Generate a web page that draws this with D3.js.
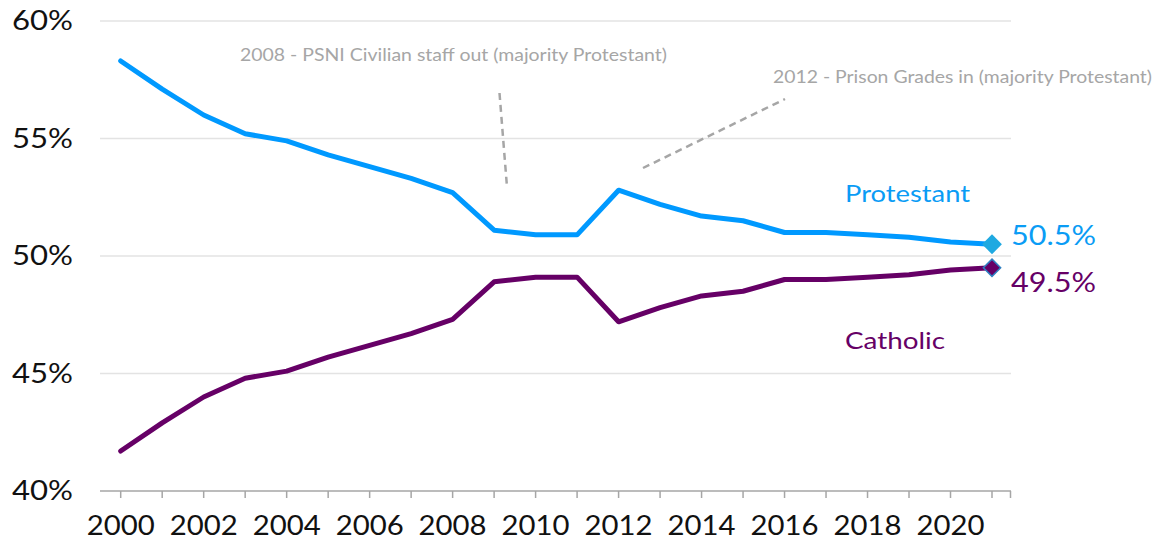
<!DOCTYPE html>
<html>
<head>
<meta charset="utf-8">
<script src="https://cdn.jsdelivr.net/npm/d3@7"></script>
<style>
  body { margin: 0; background: #fff; }
  text { font-family: "Lato", "DejaVu Sans", sans-serif; }
</style>
</head>
<body>
<div class="canvas"></div>
<script>
const years = d3.range(2000, 2022);
const protestant = [58.3, 57.1, 56.0, 55.2, 54.9, 54.3, 53.8, 53.3, 52.7, 51.1, 50.9,
    50.9, 52.8, 52.2, 51.7, 51.5, 51.0, 51.0, 50.9, 50.8, 50.6, 50.5];
const catholic = [41.7, 42.9, 44.0, 44.8, 45.1, 45.7, 46.2, 46.7, 47.3, 48.9, 49.1,
    49.1, 47.2, 47.8, 48.3, 48.5, 49.0, 49.0, 49.1, 49.2, 49.4, 49.5];
const yTicks = [40, 45, 50, 55, 60];
const xLabels = d3.range(2000, 2021, 2);
const notes = [
    '2008 - PSNI Civilian staff out (majority Protestant)',
    '2012 - Prison Grades in (majority Protestant)'
];

const width = 1155, height = 542;
const blue = '#0a9cf5', purple = '#660066';

const svg = d3.select('.canvas')
    .append('svg')
    .attr('width', width)
    .attr('height', height);

const x = d3.scaleLinear()
    .domain([2000, 2021])
    .range([120.7, 992]);

const y = d3.scaleLinear()
    .domain([40, 60])
    .range([491, 21]);

// gridlines
svg.append('g')
    .selectAll('line')
    .data(yTicks.filter(d => d > 40))
    .enter()
    .append('line')
    .attr('x1', 100)
    .attr('x2', 1011)
    .attr('y1', d => y(d))
    .attr('y2', d => y(d))
    .attr('stroke', '#e3e3e3')
    .attr('stroke-width', 1.5);

// y labels
svg.append('g')
    .selectAll('text')
    .data(yTicks)
    .enter()
    .append('text')
    .attr('x', 73)
    .attr('y', d => y(d))
    .attr('dy', '0.35em')
    .attr('text-anchor', 'end')
    .attr('font-size', 26)
    .attr('textLength', 61)
    .attr('lengthAdjust', 'spacingAndGlyphs')
    .attr('fill', '#111')
    .text(d => d + '%');

// x axis
const xAxis = svg.append('g');
xAxis.append('line')
    .attr('x1', 100)
    .attr('x2', 1011)
    .attr('y1', y(40))
    .attr('y2', y(40))
    .attr('stroke', '#a6a6a6')
    .attr('stroke-width', 1.5);

xAxis.selectAll('.tick')
    .data(years.concat([2021.5]))
    .enter()
    .append('line')
    .attr('x1', d => d > 2021 ? 1010.5 : x(d))
    .attr('x2', d => d > 2021 ? 1010.5 : x(d))
    .attr('y1', y(40))
    .attr('y2', y(40) + 7)
    .attr('stroke', '#a6a6a6')
    .attr('stroke-width', 1.5);

xAxis.selectAll('text')
    .data(xLabels)
    .enter()
    .append('text')
    .attr('x', d => x(d) - 34)
    .attr('y', 535)
    .attr('font-size', 26)
    .attr('textLength', 68)
    .attr('lengthAdjust', 'spacingAndGlyphs')
    .attr('fill', '#111')
    .text(d => d);

// annotations
const noteG = svg.append('g');
noteG.append('text')
    .attr('x', 240)
    .attr('y', 61)
    .attr('font-size', 16.5)
    .attr('textLength', 427)
    .attr('lengthAdjust', 'spacingAndGlyphs')
    .attr('fill', '#a6a6a6')
    .text(notes[0]);
noteG.append('line')
    .attr('x1', 499.5).attr('y1', 93)
    .attr('x2', 507).attr('y2', 187)
    .attr('stroke', '#a6a6a6')
    .attr('stroke-width', 2.5)
    .attr('stroke-dasharray', '7,5');
noteG.append('text')
    .attr('x', 773)
    .attr('y', 83)
    .attr('font-size', 16.5)
    .attr('textLength', 379)
    .attr('lengthAdjust', 'spacingAndGlyphs')
    .attr('fill', '#a6a6a6')
    .text(notes[1]);
noteG.append('line')
    .attr('x1', 643).attr('y1', 168)
    .attr('x2', 785).attr('y2', 99)
    .attr('stroke', '#a6a6a6')
    .attr('stroke-width', 2.5)
    .attr('stroke-dasharray', '7,5');

// lines
const line = d3.line()
    .x((d, i) => x(years[i]))
    .y(d => y(d));

svg.append('path')
    .datum(protestant)
    .attr('d', line)
    .attr('fill', 'none')
    .attr('stroke', '#0099ff')
    .attr('stroke-width', 5)
    .attr('stroke-linejoin', 'round')
    .attr('stroke-linecap', 'round');

svg.append('path')
    .datum(catholic)
    .attr('d', line)
    .attr('fill', 'none')
    .attr('stroke', purple)
    .attr('stroke-width', 5)
    .attr('stroke-linejoin', 'round')
    .attr('stroke-linecap', 'round');

// end markers
const last = years.length - 1;
const diamond = d3.symbol().type(d3.symbolDiamond2);
svg.append('path')
    .attr('d', diamond.size(250)())
    .attr('transform', `translate(${x(years[last])}, ${y(protestant[last])})`)
    .attr('fill', '#1fa9e1');
svg.append('path')
    .attr('d', diamond.size(190)())
    .attr('transform', `translate(${x(years[last])}, ${y(catholic[last])})`)
    .attr('fill', purple)
    .attr('stroke', '#2f7fc1')
    .attr('stroke-width', 1.5);

// value labels
svg.append('text')
    .attr('x', 1011)
    .attr('y', y(protestant[last]) - 8)
    .attr('dy', '0.35em')
    .attr('font-size', 26)
    .attr('textLength', 85)
    .attr('lengthAdjust', 'spacingAndGlyphs')
    .attr('fill', blue)
    .text(protestant[last].toFixed(1) + '%');
svg.append('text')
    .attr('x', 1011)
    .attr('y', y(catholic[last]) + 15)
    .attr('dy', '0.35em')
    .attr('font-size', 26)
    .attr('textLength', 85)
    .attr('lengthAdjust', 'spacingAndGlyphs')
    .attr('fill', purple)
    .text(catholic[last].toFixed(1) + '%');

// series labels
svg.append('text')
    .attr('x', 845)
    .attr('y', 194)
    .attr('dy', '0.35em')
    .attr('font-size', 24)
    .attr('textLength', 125)
    .attr('lengthAdjust', 'spacingAndGlyphs')
    .attr('fill', blue)
    .text('Protestant');
svg.append('text')
    .attr('x', 845)
    .attr('y', 341)
    .attr('dy', '0.35em')
    .attr('font-size', 24)
    .attr('textLength', 100)
    .attr('lengthAdjust', 'spacingAndGlyphs')
    .attr('fill', purple)
    .text('Catholic');
</script>
</body>
</html>
